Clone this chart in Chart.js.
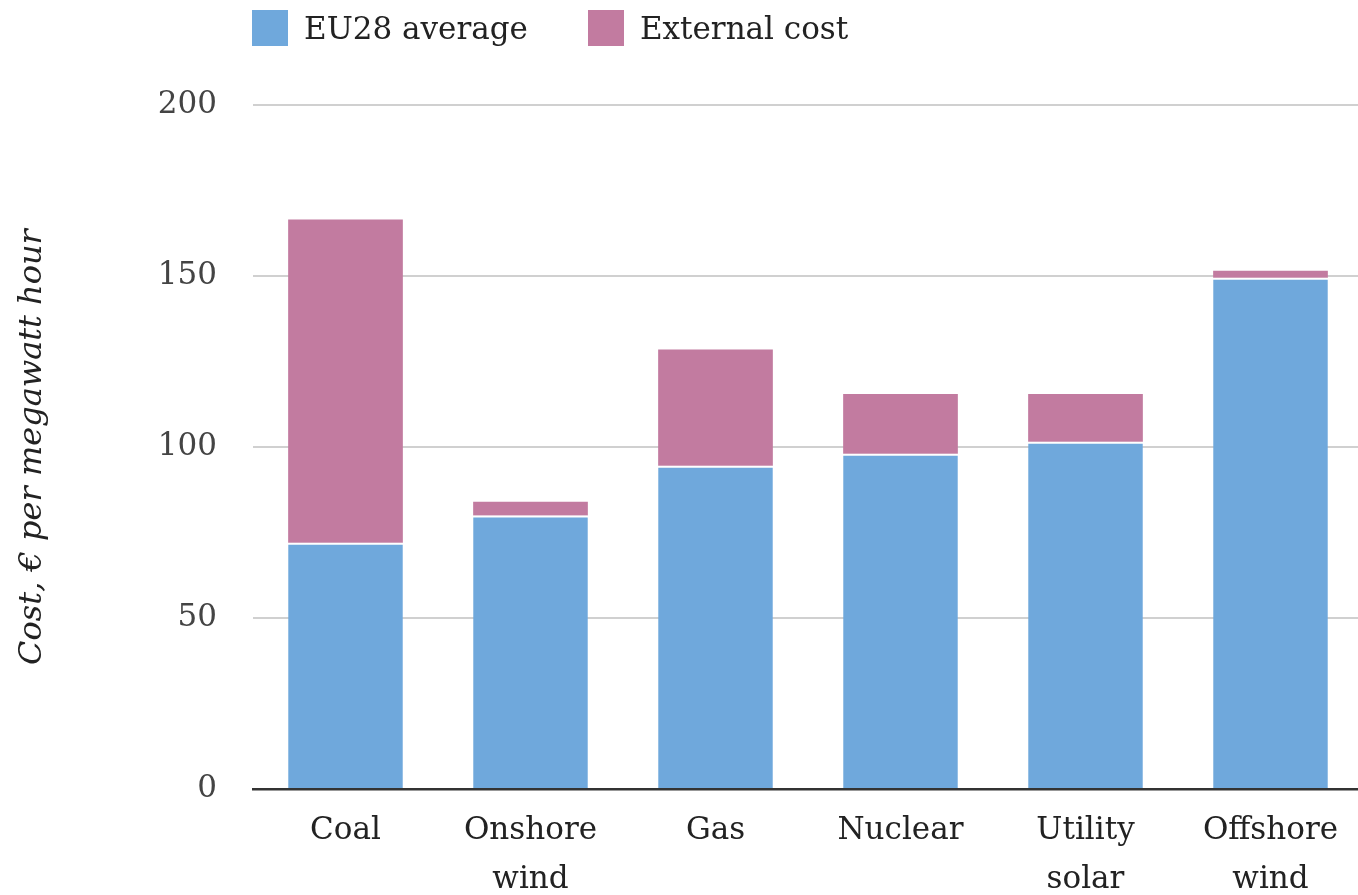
<!DOCTYPE html>
<html>
<head>
<meta charset="utf-8">
<script src="https://cdn.jsdelivr.net/npm/chart.js@4"></script>
<style>
  body { margin: 0; overflow: hidden; background: #fff; }
  #wrap { position: relative; width: 1358px; height: 895px; overflow: hidden; }
  #legend { position: absolute; top: 10px; left: 252px; display: flex; font-family: "DejaVu Serif", serif; font-size: 31px; color: #222; }
  .item { display: flex; align-items: center; height: 36px; margin-right: 60px; }
  .box { width: 36px; height: 36px; margin-right: 16px; }
  #chart { display: block; }
</style>
</head>
<body>
<div id="wrap">
  <div id="legend"></div>
  <canvas id="chart" width="1363" height="895"></canvas>
</div>
<script>
const categories = ["Coal", ["Onshore", "wind"], "Gas", "Nuclear", ["Utility", "solar"], ["Offshore", "wind"]];
const eu28Average = [72, 80, 94.5, 98, 101.5, 149.5];
const externalCost = [94.5, 4, 34, 17.5, 14, 2];
const yTicks = [0, 50, 100, 150, 200];

const htmlLegend = {
  id: "htmlLegend",
  afterUpdate(chart) {
    const el = document.getElementById("legend");
    el.innerHTML = "";
    chart.options.plugins.legend.labels.generateLabels(chart).forEach((item) => {
      const div = document.createElement("div");
      div.className = "item";
      const box = document.createElement("span");
      box.className = "box";
      box.style.background = item.fillStyle;
      const txt = document.createElement("span");
      txt.textContent = item.text;
      div.appendChild(box);
      div.appendChild(txt);
      el.appendChild(div);
    });
  },
};

const ctx = document.getElementById("chart").getContext("2d");
const chart = new Chart(ctx, {
  type: "bar",
  data: {
    labels: categories,
    datasets: [
      {
        label: "EU28 average",
        data: eu28Average,
        backgroundColor: "#6fa8dc",
        borderColor: "#ffffff",
        borderWidth: { top: 2, right: 0, bottom: 0, left: 0 },
        borderSkipped: false,
      },
      {
        label: "External cost",
        data: externalCost,
        backgroundColor: "#c27ba0",
        borderWidth: 0,
      },
    ],
  },
  options: {
    responsive: false,
    animation: false,
    layout: { padding: { top: 105, right: 0, left: 0, bottom: 0 } },
    datasets: { bar: { categoryPercentage: 1, barPercentage: 0.62 } },
    plugins: {
      legend: { display: false },
      tooltip: { enabled: false },
    },
    scales: {
      x: {
        stacked: true,
        grid: { display: false, drawTicks: false, tickLength: 0 },
        border: { display: true, color: "#333", width: 2.5 },
        ticks: {
          color: "#222",
          padding: 18,
          maxRotation: 0,
          autoSkip: false,
          font: { family: "DejaVu Serif", size: 31, lineHeight: 1.56 },
        },
        afterFit: (scale) => { scale.height = 106; },
      },
      y: {
        stacked: true,
        min: 0,
        max: 200,
        afterBuildTicks: (scale) => { scale.ticks = yTicks.map((v) => ({ value: v })); },
        grid: { color: "#d0d0d0", lineWidth: 2, drawTicks: false, tickLength: 0 },
        border: { display: false },
        ticks: {
          color: "#444",
          padding: 36,
          font: { family: "DejaVu Serif", size: 31 },
        },
        title: {
          display: true,
          text: "Cost, € per megawatt hour",
          color: "#222",
          padding: { top: 13, bottom: 0 },
          font: { family: "DejaVu Serif", size: 32, style: "italic", lineHeight: 1.2 },
        },
        afterFit: (scale) => { scale.width = 253; },
      },
    },
  },
  plugins: [htmlLegend],
});
</script>
</body>
</html>
